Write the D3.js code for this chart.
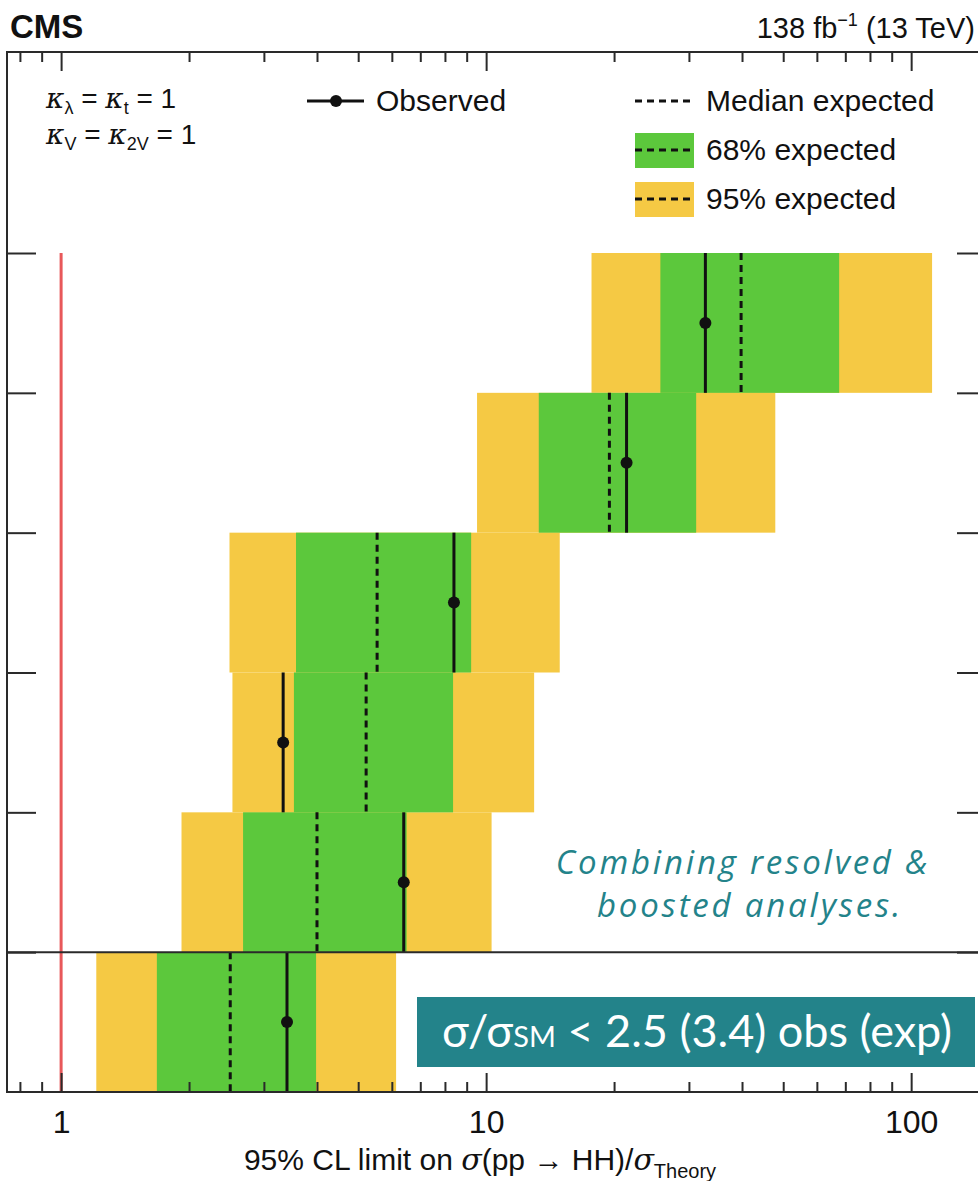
<!DOCTYPE html>
<html>
<head>
<meta charset="utf-8">
<script src="https://cdn.jsdelivr.net/npm/d3@7"></script>
<style>
  html, body { margin: 0; padding: 0; background: #fff; }
  svg { display: block; font-family: "Liberation Sans", Arial, sans-serif; }
</style>
</head>
<body>
<svg id="chart" width="978" height="1181"></svg>
<script>
// Limit rows, top to bottom; the last row is the combination.
const channels = ["ch1", "ch2", "ch3", "ch4", "ch5", "combined"];
const observed = [32.8, 21.4, 8.4, 3.33, 6.4, 3.4];
const expMedian = [39.8, 19.5, 5.54, 5.22, 4.0, 2.5];
const band68Lo = [25.7, 13.3, 3.57, 3.53, 2.68, 1.68];
const band68Hi = [67.7, 31.2, 9.22, 8.36, 6.5, 3.98];
const band95Lo = [17.7, 9.52, 2.49, 2.53, 1.92, 1.21];
const band95Hi = [112, 47.9, 14.9, 12.97, 10.3, 6.14];
const xMajorTicks = [1, 10, 100];
const xMinorTicks = [0.8, 0.9, 2, 3, 4, 5, 6, 7, 8, 9, 20, 30, 40, 50, 60, 70, 80, 90];
const theoryRef = 1;

const GREEN = "#5cc83c";
const YELLOW = "#f5c944";
const TEAL = "#23838a";
const AXIS = "#2a2a2a";
const SANS = "'Liberation Sans', Arial, sans-serif";
const ROUND = "Lato, 'Open Sans', sans-serif";
const NOTE = "'Open Sans', Lato, sans-serif";
const MATH = "'DejaVu Serif', serif";

const svg = d3.select("#chart");
const plotLeft = 8, plotRight = 986, plotTop = 52, plotBottom = 1092, rowTop = 253;

const x = d3.scaleLog().domain([0.75, 150]).range([plotLeft, plotRight]);
const y = d3.scaleLinear().domain([0, channels.length]).range([rowTop, plotBottom]);

const rows = channels.map((c, i) => ({
  c, i, obs: observed[i], med: expMedian[i],
  lo68: band68Lo[i], hi68: band68Hi[i], lo95: band95Lo[i], hi95: band95Hi[i]
}));

// 95% bands
svg.append("g").selectAll("rect").data(rows).join("rect")
  .attr("x", d => x(d.lo95)).attr("width", d => x(d.hi95) - x(d.lo95))
  .attr("y", d => y(d.i)).attr("height", d => y(d.i + 1) - y(d.i))
  .attr("fill", YELLOW);
// 68% bands
svg.append("g").selectAll("rect").data(rows).join("rect")
  .attr("x", d => x(d.lo68)).attr("width", d => x(d.hi68) - x(d.lo68))
  .attr("y", d => y(d.i)).attr("height", d => y(d.i + 1) - y(d.i))
  .attr("fill", GREEN);

// theory reference line
svg.append("line")
  .attr("x1", x(theoryRef)).attr("x2", x(theoryRef))
  .attr("y1", y(0)).attr("y2", plotBottom)
  .attr("stroke", "#e8585a").attr("stroke-width", 3);

// median expected
svg.append("g").selectAll("line").data(rows).join("line")
  .attr("x1", d => x(d.med)).attr("x2", d => x(d.med))
  .attr("y1", d => y(d.i)).attr("y2", d => y(d.i + 1))
  .attr("stroke", "#111").attr("stroke-width", 3)
  .attr("stroke-dasharray", "7,5");

// observed
svg.append("g").selectAll("line").data(rows).join("line")
  .attr("x1", d => x(d.obs)).attr("x2", d => x(d.obs))
  .attr("y1", d => y(d.i)).attr("y2", d => y(d.i + 1))
  .attr("stroke", "#111").attr("stroke-width", 3);
svg.append("g").selectAll("circle").data(rows).join("circle")
  .attr("cx", d => x(d.obs)).attr("cy", d => (y(d.i) + y(d.i + 1)) / 2)
  .attr("r", 6).attr("fill", "#111");

// separator above the combination row
svg.append("line")
  .attr("x1", plotLeft).attr("x2", plotRight)
  .attr("y1", y(channels.length - 1)).attr("y2", y(channels.length - 1))
  .attr("stroke", AXIS).attr("stroke-width", 2);

// axes
function styleAxis(g, fontSize) {
  g.select(".domain").remove();
  g.selectAll(".tick line").attr("stroke", AXIS).attr("stroke-width", 2);
  g.selectAll(".tick text").style("font-size", fontSize + "px")
    .style("font-family", SANS).attr("fill", "#111");
}
const fmt = d3.format("d");
svg.append("g").attr("transform", `translate(0,${plotBottom})`)
  .call(d3.axisBottom(x).tickValues(xMajorTicks).tickSize(-19).tickPadding(18).tickFormat(fmt))
  .call(g => styleAxis(g, 32));
svg.append("g").attr("transform", `translate(0,${plotBottom})`)
  .call(d3.axisBottom(x).tickValues(xMinorTicks).tickSize(-10).tickFormat(""))
  .call(g => styleAxis(g, 0));
svg.append("g").attr("transform", `translate(0,${plotTop})`)
  .call(d3.axisTop(x).tickValues(xMajorTicks).tickSize(-19).tickFormat(""))
  .call(g => styleAxis(g, 0));
svg.append("g").attr("transform", `translate(0,${plotTop})`)
  .call(d3.axisTop(x).tickValues(xMinorTicks).tickSize(-10).tickFormat(""))
  .call(g => styleAxis(g, 0));
const yTicks = d3.range(0, channels.length);
svg.append("g").attr("transform", `translate(${plotLeft - 1},0)`)
  .call(d3.axisLeft(y).tickValues(yTicks).tickSize(-29).tickFormat(""))
  .call(g => styleAxis(g, 0));
svg.append("g").attr("transform", `translate(${plotRight},0)`)
  .call(d3.axisRight(y).tickValues(yTicks).tickSize(-29).tickFormat(""))
  .call(g => styleAxis(g, 0));

// frame
svg.append("rect")
  .attr("x", plotLeft - 1).attr("y", plotTop).attr("width", plotRight - plotLeft + 1).attr("height", plotBottom - plotTop)
  .attr("fill", "none").attr("stroke", AXIS).attr("stroke-width", 2);

// header
svg.append("text").attr("x", 10).attr("y", 38)
  .style("font-size", "33px").style("font-weight", "bold").attr("fill", "#111").text("CMS");
const lumi = svg.append("text").attr("x", 975).attr("y", 38).attr("text-anchor", "end")
  .style("font-size", "29px").attr("fill", "#111");
lumi.append("tspan").text("138 fb");
lumi.append("tspan").style("font-size", "18px").attr("dy", -12).text("\u22121");
lumi.append("tspan").attr("dy", 12).text(" (13 TeV)");

// coupling assumptions
function kappaLine(yPos, sub1, sub2) {
  const t = svg.append("text").attr("x", 46).attr("y", yPos).style("font-size", "28px").attr("fill", "#111");
  t.append("tspan").style("font-family", MATH).style("font-style", "italic").text("\u03ba");
  t.append("tspan").style("font-size", "18px").attr("dy", 6).text(sub1);
  t.append("tspan").attr("dy", -6).text(" = ");
  t.append("tspan").style("font-family", MATH).style("font-style", "italic").text("\u03ba");
  t.append("tspan").style("font-size", "18px").attr("dy", 6).text(sub2);
  t.append("tspan").attr("dy", -6).text(" = 1");
}
kappaLine(108, "\u03bb", "t");
kappaLine(144, "V", "2V");

// legend
const leg = svg.append("g");
leg.append("line").attr("x1", 307).attr("x2", 364).attr("y1", 101).attr("y2", 101)
  .attr("stroke", "#111").attr("stroke-width", 3);
leg.append("circle").attr("cx", 336).attr("cy", 101).attr("r", 6).attr("fill", "#111");
leg.append("text").attr("x", 376).attr("y", 111).style("font-size", "30px").attr("fill", "#111").text("Observed");

const legItems = [
  { label: "Median expected", fill: null, cy: 101 },
  { label: "68% expected", fill: GREEN, cy: 150 },
  { label: "95% expected", fill: YELLOW, cy: 199 }
];
legItems.forEach(it => {
  if (it.fill) {
    leg.append("rect").attr("x", 635).attr("y", it.cy - 17).attr("width", 59).attr("height", 35).attr("fill", it.fill);
  }
  leg.append("line").attr("x1", 635).attr("x2", 694).attr("y1", it.cy).attr("y2", it.cy)
    .attr("stroke", "#111").attr("stroke-width", 3).attr("stroke-dasharray", "7,5");
  leg.append("text").attr("x", 706).attr("y", it.cy + 10).style("font-size", "30px").attr("fill", "#111").text(it.label);
});

// x-axis title
const xt = svg.append("text").attr("x", 480).attr("y", 1170).attr("text-anchor", "middle")
  .style("font-size", "30px").attr("fill", "#111");
xt.append("tspan").text("95% CL limit on ");
xt.append("tspan").style("font-family", MATH).style("font-style", "italic").text("\u03c3");
xt.append("tspan").text("(pp \u2192 HH)/");
xt.append("tspan").style("font-family", MATH).style("font-style", "italic").text("\u03c3");
xt.append("tspan").style("font-size", "20px").attr("dy", 8).text("Theory");

// note
const note = svg.append("text").attr("fill", TEAL).style("font-size", "33px")
  .style("font-style", "italic").style("font-family", NOTE)
  .style("font-weight", 400).style("letter-spacing", "2.8px").attr("text-anchor", "middle");
note.append("tspan").attr("x", 743).attr("y", 874).text("Combining resolved &");
note.append("tspan").attr("x", 750).attr("y", 917).text("boosted analyses.");

// result box
svg.append("rect").attr("x", 417).attr("y", 997).attr("width", 558).attr("height", 70).attr("fill", TEAL);
const res = svg.append("text").attr("x", 697).attr("y", 1047).attr("text-anchor", "middle")
  .attr("fill", "#fff").style("font-size", "45px").style("font-family", ROUND);
res.append("tspan").text("\u03c3/\u03c3");
res.append("tspan").style("font-size", "29px").text("SM");
res.append("tspan").text(` < ${expMedian[5]} (${observed[5]}) obs (exp)`);
</script>
</body>
</html>
